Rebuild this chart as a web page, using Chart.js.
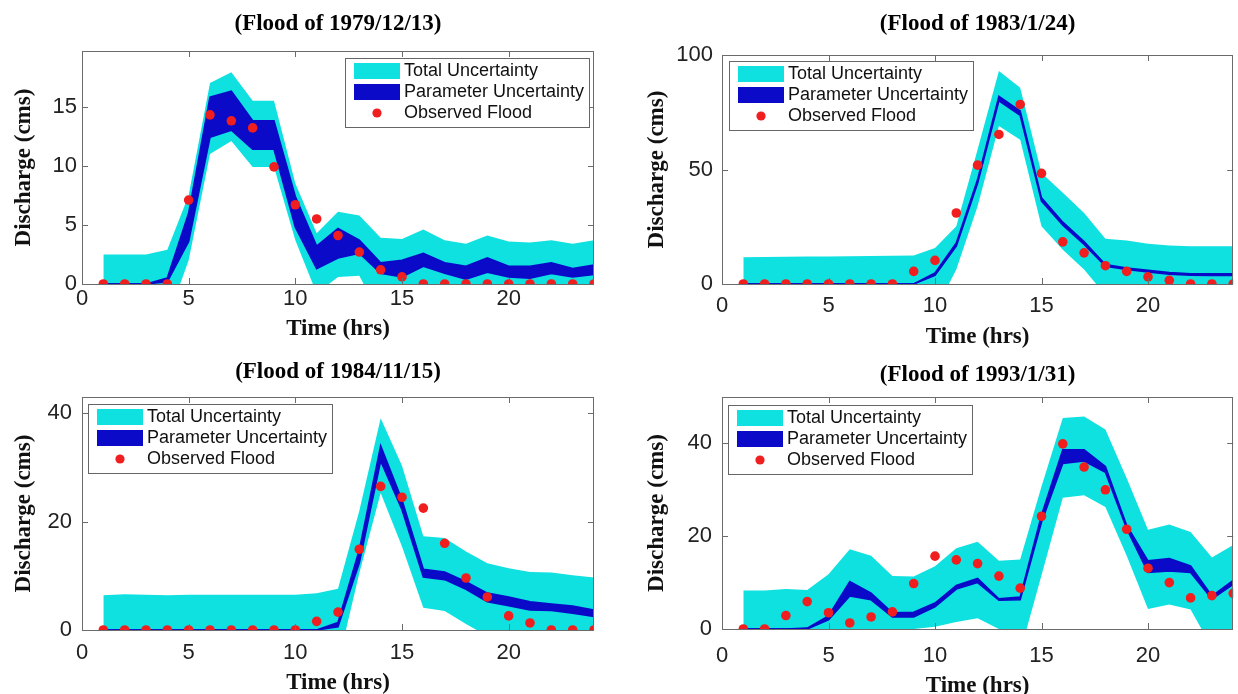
<!DOCTYPE html>
<html>
<head>
<meta charset="utf-8">
<script src="https://cdn.jsdelivr.net/npm/chart.js@4.4.0/dist/chart.umd.min.js"></script>
<style>
  html, body { margin: 0; padding: 0; background: #fff; }
  #wrap { position: relative; width: 1238px; height: 694px; overflow: hidden; }
  .panel { position: absolute; width: 619px; height: 360px; }
</style>
</head>
<body>
<div id="wrap">
  <div class="panel" style="left:0;top:0"><canvas id="c1979" width="619" height="360"></canvas></div>
  <div class="panel" style="left:619px;top:0"><canvas id="c1983" width="619" height="360"></canvas></div>
  <div class="panel" style="left:0;top:347px"><canvas id="c1984" width="619" height="360"></canvas></div>
  <div class="panel" style="left:619px;top:347px"><canvas id="c1993" width="619" height="360"></canvas></div>
</div>
<script>
// time axis (hrs)
const hours = [1,2,3,4,5,6,7,8,9,10,11,12,13,14,15,16,17,18,19,20,21,22,23,24];

// Flood of 1979/12/13
const f1979TotalHigh = [2.5,2.5,2.5,2.9,7.5,17.0,17.9,15.5,15.5,8.5,4.3,6.1,5.8,3.9,3.8,4.6,3.7,3.4,4.1,3.6,3.5,3.7,3.4,3.7];
const f1979TotalLow  = [0,0,0,-3.0,2.0,11.0,12.1,9.9,9.9,3.7,-0.8,0.6,0.7,-2.8,0,0,0,0,0,0,0,0,0,0];
const f1979ParamHigh = [0,0,0,0.5,6.0,15.8,16.3,13.8,13.8,7.4,3.2,4.7,3.7,1.8,2.0,2.6,1.8,1.5,2.2,1.5,1.5,1.8,1.3,1.6];
const f1979ParamLow  = [0,0,0,0.2,3.6,12.4,13.0,11.4,11.4,4.8,1.3,2.2,2.6,0.9,0.6,1.5,0.9,0.4,1.0,0.6,0.5,0.9,0.6,0.8];
const f1979Observed  = [0,0,0,0,7.1,14.3,13.8,13.2,9.9,6.7,5.5,4.1,2.7,1.2,0.6,0,0,0,0,0,0,0,0,0];

// Flood of 1983/1/24
const f1983TotalHigh = [11.7,11.8,11.9,12.0,12.0,12.1,12.2,12.3,12.4,15.7,25.2,58.7,93.0,85.7,48.5,39.8,31.0,19.8,19.0,17.6,16.8,16.5,16.5,16.5];
const f1983TotalLow  = [0,0,0,0,0,0,0,0,0,-11.7,6.3,34.0,69.0,63.0,25.2,15.0,6.3,-4.8,0,0,0,0,0,0];
const f1983ParamHigh = [0,0,0,0,0,0,0,0,0,4.8,17.9,45.6,82.0,75.5,37.6,27.0,18.5,8.5,7.0,6.0,5.0,4.5,4.4,4.4];
const f1983ParamLow  = [0,0,0,0,0,0,0,0,0,3.8,16.5,44.0,80.0,73.6,36.2,25.7,17.3,7.8,6.4,5.3,4.3,3.8,3.7,3.7];
const f1983Observed  = [0,0,0,0,0,0,0,0,5.5,10.3,31.0,51.9,65.3,78.4,48.3,18.4,13.6,8.0,5.5,3.1,1.6,0,0,0];

// Flood of 1984/11/15
const f1984TotalHigh = [6.4,6.6,6.5,6.4,6.5,6.5,6.5,6.5,6.5,6.5,6.8,7.6,22.0,39.1,30.3,17.3,17.0,14.5,12.3,11.4,10.7,10.6,10.1,9.7];
const f1984TotalLow  = [0,0,0,0,0,0,0,0,0,0,0,-6.2,10.5,25.3,15.4,4.1,3.5,1.1,-1.1,0,0,0,0,0];
const f1984ParamHigh = [0,0,0,0,0,0,0,0,0,0,0,1.4,14.8,34.0,24.0,11.2,10.7,8.9,6.8,6.1,5.2,4.8,4.4,3.7];
const f1984ParamLow  = [0,0,0,0,0,0,0,0,0,0,0,0.6,12.4,31.2,22.2,9.8,9.3,7.5,5.2,4.5,3.7,3.6,3.1,2.5];
const f1984Observed  = [0,0,0,0,0,0,0,0,0,0,1.6,3.3,14.9,26.5,24.5,22.5,16.0,9.6,6.1,2.6,1.3,0,0,0];

// Flood of 1993/1/31
const f1993TotalHigh = [8.3,8.3,8.6,8.4,11.8,17.2,15.8,11.4,11.3,13.5,17.4,18.8,14.7,15.0,30.7,45.5,45.8,43.0,32.5,21.4,22.5,20.9,15.4,18.1];
const f1993TotalLow  = [0,0,0,0,0,0,0,0,0,0.5,1.5,2.3,0,-5.0,11.6,28.3,28.8,26.3,15.8,4.3,5.3,4.2,-4.0,-2.0];
const f1993ParamHigh = [0,0,0,0.2,2.8,10.2,7.7,3.5,3.6,5.6,9.4,10.9,6.5,6.9,24.5,38.6,38.6,35.0,22.3,14.7,15.2,13.6,7.1,10.5];
const f1993ParamLow  = [0,0,0,0,2.0,7.1,6.3,2.6,2.6,4.8,8.6,10.0,6.2,6.3,23.0,35.7,36.2,33.8,21.6,12.2,12.5,12.2,6.5,9.6];
const f1993Observed  = [0,0,2.9,5.9,3.5,1.3,2.6,3.7,9.8,15.7,14.9,14.1,11.4,8.8,24.3,39.9,34.9,30.0,21.5,13.1,10.0,6.7,7.2,7.7];

const CYAN = '#0FE0E0';
const BLUE = '#0A0AC8';
const RED = '#F01E1E';
const AXIS = '#6b6b6b';
const SANS = '"Liberation Sans", Arial, sans-serif';
const SERIF = '"Liberation Serif", "Times New Roman", serif';

// box, inward ticks, panel title and legend (matlab look)
const panelDecor = {
  id: 'panelDecor',
  afterDraw(chart, args, opts) {
    const {ctx, chartArea: a, scales} = chart;
    const x = scales.x, y = scales.y;
    ctx.save();
    ctx.strokeStyle = AXIS;
    ctx.lineWidth = 1;
    ctx.beginPath();
    x.ticks.forEach(t => {
      const px = Math.round(x.getPixelForValue(t.value)) + 0.5;
      if (px <= a.left + 2 || px >= a.right - 2) return;
      ctx.moveTo(px, a.bottom); ctx.lineTo(px, a.bottom - 6);
      ctx.moveTo(px, a.top); ctx.lineTo(px, a.top + 6);
    });
    y.ticks.forEach(t => {
      const py = Math.round(y.getPixelForValue(t.value)) + 0.5;
      if (py <= a.top + 2 || py >= a.bottom - 2) return;
      ctx.moveTo(a.left, py); ctx.lineTo(a.left + 6, py);
      ctx.moveTo(a.right, py); ctx.lineTo(a.right - 6, py);
    });
    ctx.stroke();
    ctx.strokeRect(Math.round(a.left) + 0.5, Math.round(a.top) + 0.5, Math.round(a.width) - 1, Math.round(a.height));

    // title
    ctx.fillStyle = '#000';
    ctx.font = 'bold 23px ' + SERIF;
    ctx.textAlign = 'center';
    ctx.textBaseline = 'middle';
    ctx.fillText(opts.title, (a.left + a.right) / 2, opts.titleY);

    // legend
    const ds = chart.data.datasets;
    const bw = 244, bh = 69;
    const bx = opts.legendRight ? a.right - opts.legendDx - bw : a.left + opts.legendDx;
    const by = a.top + opts.legendDy;
    ctx.fillStyle = '#fff';
    ctx.fillRect(bx, by, bw, bh);
    ctx.strokeStyle = '#666';
    ctx.strokeRect(Math.round(bx) + 0.5, Math.round(by) + 0.5, bw, bh);
    ctx.fillStyle = CYAN;
    ctx.fillRect(bx + 9, by + 5, 46, 16);
    ctx.fillStyle = BLUE;
    ctx.fillRect(bx + 9, by + 26, 46, 16);
    ctx.fillStyle = RED;
    ctx.beginPath();
    ctx.arc(bx + 32, by + 55, 4.6, 0, Math.PI * 2);
    ctx.fill();
    ctx.fillStyle = '#111';
    ctx.font = '18px ' + SANS;
    ctx.textAlign = 'left';
    ctx.fillText(ds[4].label, bx + 59, by + 13);
    ctx.fillText(ds[2].label, bx + 59, by + 34);
    ctx.fillText(ds[0].label, bx + 59, by + 55);
    ctx.restore();
  }
};

function makeChart(id, p) {
  const pts = arr => hours.map((h, i) => ({x: h, y: arr[i]}));
  const W = 619, H = 360;
  return new Chart(document.getElementById(id), {
    type: 'line',
    data: {
      datasets: [
        {label: 'Observed Flood', data: pts(p.obs), showLine: false, pointRadius: 4.8,
         pointBackgroundColor: RED, pointBorderWidth: 0, order: 1},
        {label: 'param low', data: pts(p.parLow), borderColor: BLUE, borderWidth: 1.6,
         pointRadius: 0, fill: false, order: 2},
        {label: 'Parameter Uncertainty', data: pts(p.parHigh), borderColor: BLUE, borderWidth: 1.6,
         pointRadius: 0, fill: '-1', backgroundColor: BLUE, order: 2},
        {label: 'total low', data: pts(p.totLow), borderWidth: 0, pointRadius: 0, fill: false, order: 3},
        {label: 'Total Uncertainty', data: pts(p.totHigh), borderWidth: 0, pointRadius: 0,
         fill: '-1', backgroundColor: CYAN, order: 3}
      ]
    },
    options: {
      responsive: false,
      animation: false,
      layout: {padding: {left: 0, right: W - p.right, top: p.top, bottom: 0}},
      plugins: {
        legend: {display: false},
        tooltip: {enabled: false},
        panelDecor: {title: p.title, titleY: p.titleY, legendRight: p.legendRight,
                     legendDx: p.legendDx, legendDy: p.legendDy}
      },
      scales: {
        x: {
          type: 'linear', min: 0, max: 24,
          grid: {display: false, drawTicks: false},
          border: {display: false},
          ticks: {stepSize: 5, includeBounds: false, padding: p.xPad, color: '#222',
                  font: {family: SANS, size: 22, lineHeight: 1}},
          title: {display: true, text: 'Time (hrs)', color: '#111',
                  font: {family: SERIF, size: 23, weight: 'bold', lineHeight: 1},
                  padding: {top: 0, bottom: p.xTitlePad}},
          afterFit: s => { s.height = H - p.bottom; }
        },
        y: {
          min: 0, max: p.ymax,
          grid: {display: false, drawTicks: false},
          border: {display: false},
          ticks: {stepSize: p.ystep, includeBounds: false, padding: p.yPad, color: '#222',
                  font: {family: SANS, size: 22, lineHeight: 1}},
          title: {display: true, text: 'Discharge (cms)', color: '#111',
                  font: {family: SERIF, size: 23, weight: 'bold', lineHeight: 1},
                  padding: {top: p.yTitlePad, bottom: 0}},
          afterFit: s => { s.width = p.left; }
        }
      }
    },
    plugins: [panelDecor]
  });
}

makeChart('c1979', {
  title: '(Flood of 1979/12/13)', titleY: 24,
  totHigh: f1979TotalHigh, totLow: f1979TotalLow, parHigh: f1979ParamHigh, parLow: f1979ParamLow, obs: f1979Observed,
  ymax: 19.7, ystep: 5, left: 82, right: 594, top: 51, bottom: 284,
  xPad: 4, xTitlePad: 19, yPad: 5, yTitlePad: 13, legendRight: true, legendDx: 5, legendDy: 7
});
makeChart('c1983', {
  title: '(Flood of 1983/1/24)', titleY: 24,
  totHigh: f1983TotalHigh, totLow: f1983TotalLow, parHigh: f1983ParamHigh, parLow: f1983ParamLow, obs: f1983Observed,
  ymax: 100, ystep: 50, left: 103, right: 615, top: 55, bottom: 284,
  xPad: 11, xTitlePad: 11, yPad: 9, yTitlePad: 26.5, legendRight: false, legendDx: 7, legendDy: 6
});
makeChart('c1984', {
  title: '(Flood of 1984/11/15)', titleY: 25,
  totHigh: f1984TotalHigh, totLow: f1984TotalLow, parHigh: f1984ParamHigh, parLow: f1984ParamLow, obs: f1984Observed,
  ymax: 43, ystep: 20, left: 82, right: 594, top: 50, bottom: 283,
  xPad: 12, xTitlePad: 12, yPad: 10, yTitlePad: 13, legendRight: false, legendDx: 6, legendDy: 7
});
makeChart('c1993', {
  title: '(Flood of 1993/1/31)', titleY: 28,
  totHigh: f1993TotalHigh, totLow: f1993TotalLow, parHigh: f1993ParamHigh, parLow: f1993ParamLow, obs: f1993Observed,
  ymax: 50, ystep: 20, left: 103, right: 615, top: 50, bottom: 282,
  xPad: 16, xTitlePad: 9, yPad: 10, yTitlePad: 26.5, legendRight: false, legendDx: 6, legendDy: 8
});
</script>
</body>
</html>
